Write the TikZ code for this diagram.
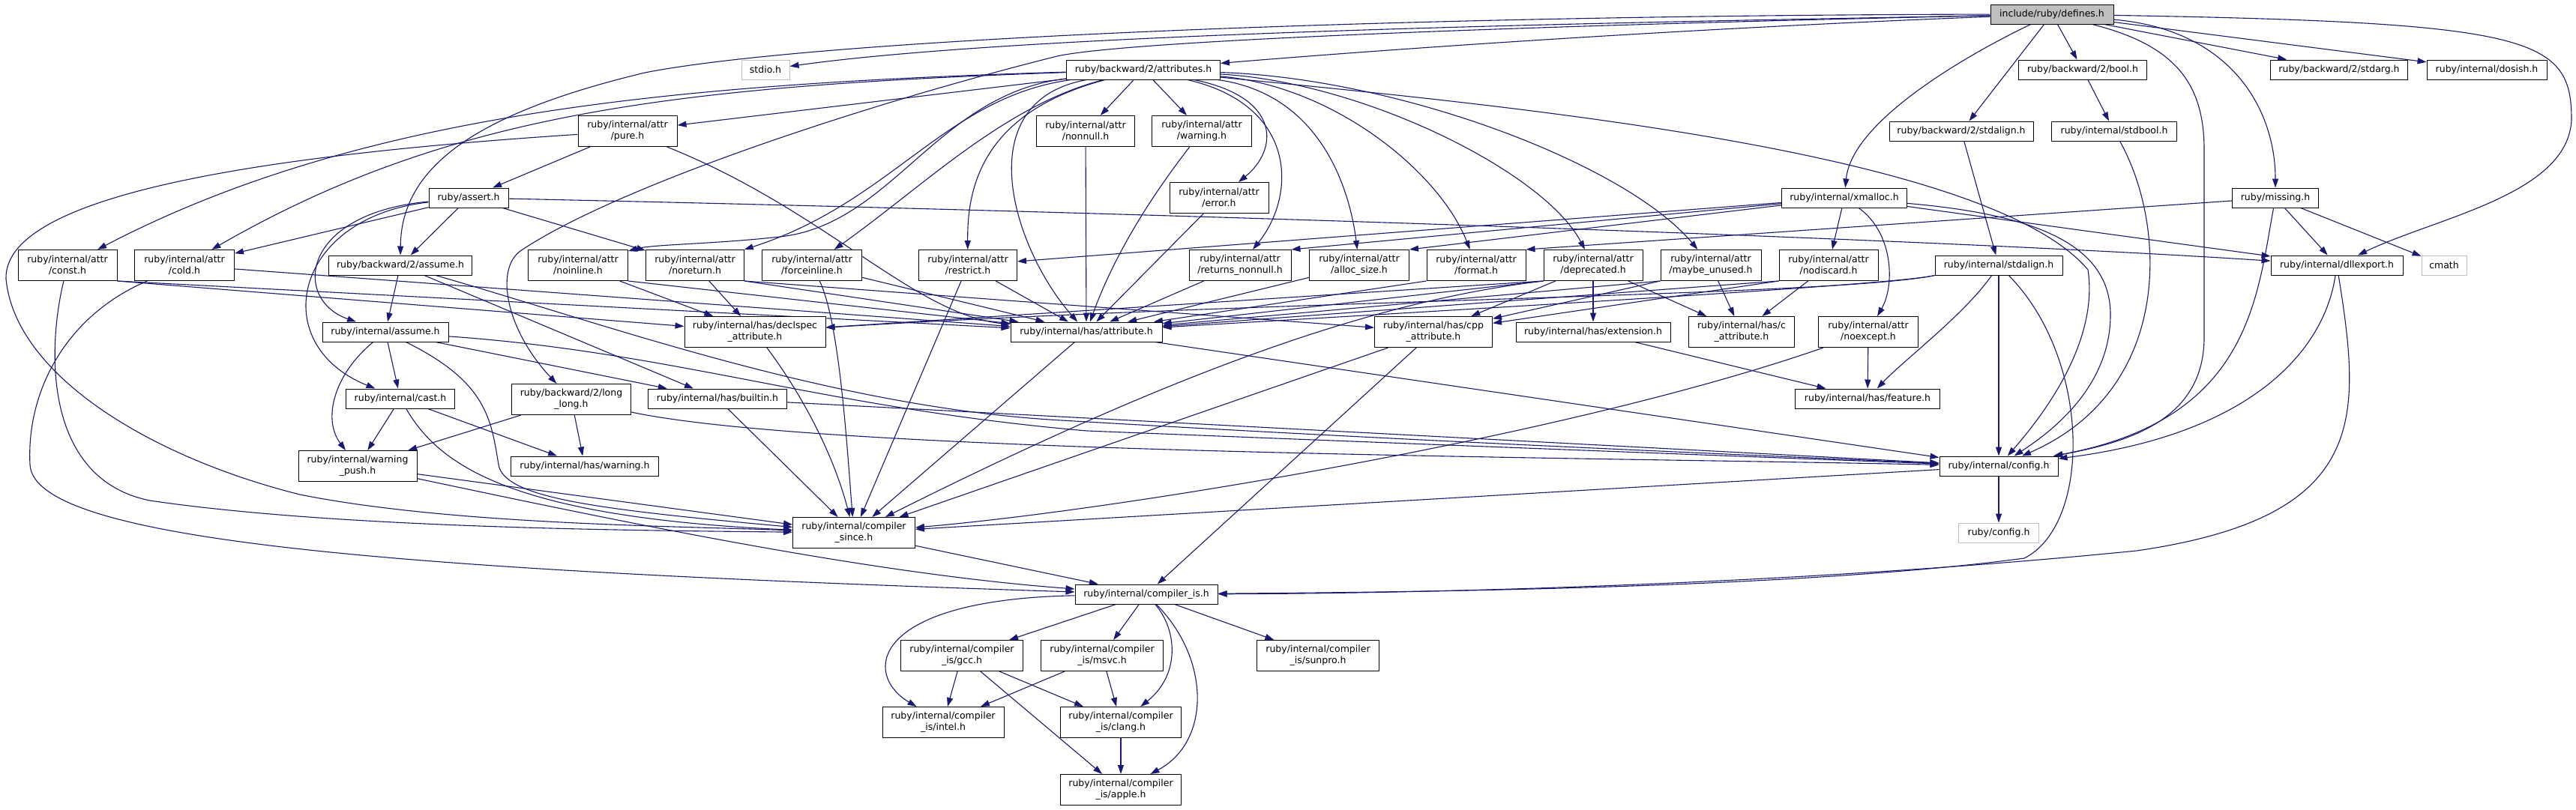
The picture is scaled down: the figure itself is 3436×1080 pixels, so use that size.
\documentclass[tikz,border=0pt]{standalone}
\usepackage{fontspec}
\setmainfont{DejaVu Sans}
\usetikzlibrary{arrows.meta}
\definecolor{navyc}{HTML}{191970}
\definecolor{grayf}{HTML}{BFBFBF}
\pgfdeclarelayer{bg}
\pgfsetlayers{bg,main}
\tikzset{
  nb/.style={draw=black, line width=1pt, fill=white, rectangle, inner sep=0pt, align=center,
             font=\fontsize{12.5}{15}\selectfont, text=black},
  s1/.style={minimum height=26pt},
  s2/.style={minimum height=41pt},
  gnode/.style={draw=grayf},
  edg/.style={draw=navyc, line width=1.1pt, -{Triangle[length=12pt,width=8pt]}},
}
\begin{document}
\begin{tikzpicture}[x=1pt,y=-1pt]
\useasboundingbox (0,0) rectangle (3436,1080);
% ---------------- nodes ----------------
\node[nb,s1,fill=grayf,minimum width=164pt] (defines) at (2737,19) {include/ruby/defines.h};
\node[nb,s1,gnode,minimum width=64pt] (stdio) at (1021,93) {stdio.h};
\node[nb,s1,minimum width=205pt] (attributes) at (1525,93) {ruby/backward/2/attributes.h};
\node[nb,s1,minimum width=171pt] (bool) at (2778,93) {ruby/backward/2/bool.h};
\node[nb,s1,minimum width=183pt] (stdarg) at (3120,93) {ruby/backward/2/stdarg.h};
\node[nb,s1,minimum width=160pt] (dosish) at (3317,93) {ruby/internal/dosish.h};
\node[nb,s2,minimum width=132pt] (pure) at (837,175) {ruby/internal/attr\\/pure.h};
\node[nb,s2,minimum width=131pt] (nonnull) at (1448,175) {ruby/internal/attr\\/nonnull.h};
\node[nb,s2,minimum width=133pt] (awarning) at (1603,175) {ruby/internal/attr\\/warning.h};
\node[nb,s1,minimum width=192pt] (bwstdalign) at (2616,175) {ruby/backward/2/stdalign.h};
\node[nb,s1,minimum width=167pt] (stdbool) at (2820,175) {ruby/internal/stdbool.h};
\node[nb,s1,minimum width=106pt] (assert) at (625,264) {ruby/assert.h};
\node[nb,s2,minimum width=132pt] (error) at (1626,264) {ruby/internal/attr\\/error.h};
\node[nb,s1,minimum width=167pt] (xmalloc) at (2460,264) {ruby/internal/xmalloc.h};
\node[nb,s1,minimum width=115pt] (missing) at (3035,264) {ruby/missing.h};
\node[nb,s2,minimum width=132pt] (const) at (90,354) {ruby/internal/attr\\/const.h};
\node[nb,s2,minimum width=133pt] (cold) at (246,354) {ruby/internal/attr\\/cold.h};
\node[nb,s1,minimum width=191pt] (bwassume) at (534,354) {ruby/backward/2/assume.h};
\node[nb,s2,minimum width=133pt] (noinline) at (771,354) {ruby/internal/attr\\/noinline.h};
\node[nb,s2,minimum width=131pt] (noreturn) at (927,354) {ruby/internal/attr\\/noreturn.h};
\node[nb,s2,minimum width=133pt] (forceinline) at (1083,354) {ruby/internal/attr\\/forceinline.h};
\node[nb,s2,minimum width=131pt] (restrict) at (1291,354) {ruby/internal/attr\\/restrict.h};
\node[nb,s2,minimum width=136pt] (retnonnull) at (1654,354) {ruby/internal/attr\\/returns\_nonnull.h};
\node[nb,s2,minimum width=133pt] (allocsize) at (1813,354) {ruby/internal/attr\\/alloc\_size.h};
\node[nb,s2,minimum width=132pt] (format) at (1969,354) {ruby/internal/attr\\/format.h};
\node[nb,s2,minimum width=132pt] (deprecated) at (2125,354) {ruby/internal/attr\\/deprecated.h};
\node[nb,s2,minimum width=134pt] (maybeunused) at (2282,354) {ruby/internal/attr\\/maybe\_unused.h};
\node[nb,s2,minimum width=132pt] (nodiscard) at (2439,354) {ruby/internal/attr\\/nodiscard.h};
\node[nb,s1,minimum width=170pt] (istdalign) at (2666,354) {ruby/internal/stdalign.h};
\node[nb,s1,minimum width=176pt] (dllexport) at (3117,354) {ruby/internal/dllexport.h};
\node[nb,s1,gnode,minimum width=60pt] (cmath) at (3260,354) {cmath};
\node[nb,s1,minimum width=168pt] (iassume) at (514,443) {ruby/internal/assume.h};
\node[nb,s2,minimum width=188pt] (declspec) at (1007,443) {ruby/internal/has/declspec\\\_attribute.h};
\node[nb,s1,minimum width=202pt] (hasattr) at (1449,443) {ruby/internal/has/attribute.h};
\node[nb,s2,minimum width=157pt] (cppattr) at (1912,443) {ruby/internal/has/cpp\\\_attribute.h};
\node[nb,s1,minimum width=206pt] (extension) at (2125,443) {ruby/internal/has/extension.h};
\node[nb,s2,minimum width=141pt] (cattr) at (2323,443) {ruby/internal/has/c\\\_attribute.h};
\node[nb,s2,minimum width=133pt] (noexcept) at (2492,443) {ruby/internal/attr\\/noexcept.h};
\node[nb,s1,minimum width=145pt] (cast) at (534,532) {ruby/internal/cast.h};
\node[nb,s2,minimum width=159pt] (longlong) at (762,533) {ruby/backward/2/long\\\_long.h};
\node[nb,s1,minimum width=185pt] (builtin) at (957,532) {ruby/internal/has/builtin.h};
\node[nb,s1,minimum width=193pt] (feature) at (2491,532) {ruby/internal/has/feature.h};
\node[nb,s2,minimum width=158pt] (wpush) at (477,622) {ruby/internal/warning\\\_push.h};
\node[nb,s1,minimum width=197pt] (haswarning) at (780,622) {ruby/internal/has/warning.h};
\node[nb,s1,minimum width=158pt] (config) at (2666,622) {ruby/internal/config.h};
\node[nb,s2,minimum width=163pt] (since) at (1139,711) {ruby/internal/compiler\\\_since.h};
\node[nb,s1,gnode,minimum width=107pt] (rconfig) at (2666,711) {ruby/config.h};
\node[nb,s1,minimum width=190pt] (compis) at (1529,793) {ruby/internal/compiler\_is.h};
\node[nb,s2,minimum width=163pt] (gcc) at (1283,875) {ruby/internal/compiler\\\_is/gcc.h};
\node[nb,s2,minimum width=163pt] (msvc) at (1470,875) {ruby/internal/compiler\\\_is/msvc.h};
\node[nb,s2,minimum width=163pt] (sunpro) at (1758,875) {ruby/internal/compiler\\\_is/sunpro.h};
\node[nb,s2,minimum width=162pt] (intel) at (1258,964) {ruby/internal/compiler\\\_is/intel.h};
\node[nb,s2,minimum width=161pt] (clang) at (1495,964) {ruby/internal/compiler\\\_is/clang.h};
\node[nb,s2,minimum width=161pt] (apple) at (1495,1054) {ruby/internal/compiler\\\_is/apple.h};
% ---------------- edges ----------------
\begin{pgfonlayer}{bg}
\fill[white] (0,0) rectangle (3436,1080);
% defines.h
\draw[edg] (defines) .. controls (2300,28) and (1400,40) .. (stdio);
\draw[edg] (defines) .. controls (2200,40) and (1800,70) .. (attributes);
\draw[edg] (defines) .. controls (1900,20) and (1100,50) .. (860,97) .. controls (640,150) and (535,220) .. (bwassume);
\draw[edg] (defines) .. controls (2000,35) and (1500,55) .. (1410,75) .. controls (1150,140) and (820,250) .. (694,335) .. controls (660,360) and (675,440) .. (longlong);
\draw[edg] (defines) -- (bool);
\draw[edg] (defines) -- (bwstdalign);
\draw[edg] (defines) -- (stdarg);
\draw[edg] (defines) -- (dosish);
\draw[edg] (defines) .. controls (2630,70) and (2470,160) .. (xmalloc);
\draw[edg] (defines) .. controls (2980,40) and (3035,150) .. (missing);
\draw[edg] (defines) .. controls (3380,30) and (3430,50) .. (3430,160) .. controls (3425,260) and (3250,290) .. (dllexport);
\draw[edg] (defines) .. controls (2900,60) and (2940,110) .. (2940,200) -- (2940,450) .. controls (2940,560) and (2840,590) .. (config);
% attributes.h
\draw[edg] (attributes) .. controls (2000,140) and (2650,200) .. (2785,360) .. controls (2800,460) and (2720,560) .. (config);
\draw[edg] (attributes) -- (pure);
\draw[edg] (attributes) .. controls (900,112) and (480,150) .. (const);
\draw[edg] (attributes) .. controls (900,115) and (600,150) .. (cold);
\draw[edg] (attributes) .. controls (1250,125) and (1190,300) .. (1040,316) .. controls (950,326) and (870,326) .. (noinline);
\draw[edg] (attributes) .. controls (1260,130) and (1190,270) .. (noreturn);
\draw[edg] (attributes) .. controls (1340,140) and (1230,250) .. (forceinline);
\draw[edg] (attributes) .. controls (1310,150) and (1290,250) .. (restrict);
\draw[edg] (attributes) -- (nonnull);
\draw[edg] (attributes) -- (awarning);
\draw[edg] (attributes) .. controls (1710,130) and (1705,200) .. (error);
\draw[edg] (attributes) .. controls (1730,140) and (1730,260) .. (retnonnull);
\draw[edg] (attributes) .. controls (1760,125) and (1800,250) .. (allocsize);
\draw[edg] (attributes) .. controls (1780,115) and (1920,230) .. (format);
\draw[edg] (attributes) .. controls (1820,110) and (2060,230) .. (deprecated);
\draw[edg] (attributes) .. controls (1870,105) and (2170,220) .. (maybeunused);
\draw[edg] (attributes) .. controls (1290,135) and (1350,330) .. (hasattr);
% pure.h
\draw[edg] (pure) -- (assert);
\draw[edg] (pure) .. controls (1100,280) and (1220,420) .. (hasattr);
\draw[edg] (pure) .. controls (380,205) and (5,255) .. (8,372) .. controls (20,500) and (200,610) .. (400,660) .. controls (600,700) and (900,702) .. (since);
% assert.h
\draw[edg] (assert) -- (cold);
\draw[edg] (assert) -- (bwassume);
\draw[edg] (assert) -- (noreturn);
\draw[edg] (assert) .. controls (1600,285) and (2600,320) .. (dllexport);
\draw[edg] (assert) .. controls (400,285) and (390,400) .. (iassume);
\draw[edg] (assert) .. controls (390,290) and (355,460) .. (cast);
% backward/2/assume.h
\draw[edg] (bwassume) -- (iassume);
\draw[edg] (bwassume) -- (builtin);
\draw[edg] (bwassume) .. controls (800,430) and (1100,540) .. (1400,560) .. controls (1900,590) and (2400,610) .. (config);
% internal/assume.h
\draw[edg] (iassume) -- (cast);
\draw[edg] (iassume) .. controls (445,500) and (430,560) .. (wpush);
\draw[edg] (iassume) .. controls (650,510) and (655,560) .. (665,620) .. controls (672,665) and (800,680) .. (since);
\draw[edg] (iassume) -- (builtin);
\draw[edg] (iassume) .. controls (900,470) and (1100,545) .. (1450,575) .. controls (1950,595) and (2400,612) .. (config);
% cast.h
\draw[edg] (cast) -- (wpush);
\draw[edg] (cast) -- (haswarning);
\draw[edg] (cast) .. controls (585,620) and (680,690) .. (since);
% long_long.h
\draw[edg] (longlong) -- (haswarning);
\draw[edg] (longlong) -- (wpush);
\draw[edg] (longlong) .. controls (1100,605) and (2100,610) .. (config);
% has/builtin.h
\draw[edg] (builtin) -- (since);
\draw[edg] (builtin) -- (config);
% warning_push.h
\draw[edg] (wpush) -- (since);
\draw[edg] (wpush) .. controls (800,690) and (1150,765) .. (compis);
% const.h
\draw[edg] (const.south east) -- (declspec);
\draw[edg] (const.south east) -- (hasattr);
\draw[edg] (const) .. controls (62,470) and (60,640) .. (200,668) .. controls (450,705) and (850,708) .. (since);
% cold.h
\draw[edg] (cold) -- (hasattr);
\draw[edg] (cold) .. controls (90,420) and (35,520) .. (40,620) .. controls (45,720) and (500,760) .. (compis);
% noinline.h
\draw[edg] (noinline) -- (declspec);
\draw[edg] (noinline.south east) -- (hasattr);
% noreturn.h
\draw[edg] (noreturn) -- (declspec);
\draw[edg] (noreturn.south east) -- (hasattr);
\draw[edg] (noreturn.south east) -- (cppattr);
% forceinline.h
\draw[edg] (forceinline) .. controls (1120,430) and (1130,600) .. (since);
\draw[edg] (forceinline) -- (hasattr);
% restrict.h
\draw[edg] (restrict) -- (since);
\draw[edg] (restrict) -- (hasattr);
% simple attrs
\draw[edg] (nonnull) -- (hasattr);
\draw[edg] (awarning) .. controls (1545,250) and (1490,330) .. (hasattr);
\draw[edg] (error) -- (hasattr);
\draw[edg] (retnonnull) -- (hasattr);
\draw[edg] (allocsize) -- (hasattr);
\draw[edg] (format.south west) -- (hasattr);
% deprecated.h
\draw[edg] (deprecated.south west) -- (hasattr);
\draw[edg] (deprecated.south west) -- (declspec);
\draw[edg] (deprecated) -- (cppattr);
\draw[edg] (deprecated) -- (extension);
\draw[edg] (deprecated) -- (cattr);
\draw[edg] (deprecated.south west) .. controls (1850,400) and (1600,480) .. (since);
% maybe_unused.h
\draw[edg] (maybeunused.south west) -- (hasattr);
\draw[edg] (maybeunused) -- (cattr);
\draw[edg] (maybeunused.south west) -- (cppattr);
% nodiscard.h
\draw[edg] (nodiscard.south west) -- (hasattr);
\draw[edg] (nodiscard) -- (cattr);
\draw[edg] (nodiscard.south west) -- (cppattr);
% internal/stdalign.h
\draw[edg] (istdalign) -- (config);
\draw[edg] (istdalign) .. controls (2620,420) and (2540,480) .. (feature);
\draw[edg] (istdalign.south west) .. controls (2530,380) and (2000,410) .. (hasattr);
\draw[edg] (istdalign.south west) .. controls (2450,395) and (1700,400) .. (declspec);
\draw[edg] (istdalign) .. controls (2790,480) and (2790,700) .. (2700,745) .. controls (2400,785) and (1900,790) .. (compis);
% xmalloc.h
\draw[edg] (xmalloc) -- (nodiscard);
\draw[edg] (xmalloc) .. controls (2525,310) and (2528,380) .. (noexcept);
\draw[edg] (xmalloc) -- (allocsize.north east);
\draw[edg] (xmalloc) -- (retnonnull.north east);
\draw[edg] (xmalloc) -- (restrict);
\draw[edg] (xmalloc) -- (dllexport);
\draw[edg] (xmalloc) .. controls (2700,285) and (2815,320) .. (2815,420) .. controls (2815,520) and (2730,580) .. (config);
% missing.h
\draw[edg] (missing) -- (format.north east);
\draw[edg] (missing) -- (dllexport);
\draw[edg] (missing) -- (cmath);
\draw[edg] (missing) .. controls (3010,400) and (3000,560) .. (config);
% backward stdalign / bool
\draw[edg] (bwstdalign) -- (istdalign);
\draw[edg] (bool) -- (stdbool);
\draw[edg] (stdbool) .. controls (2890,300) and (2900,520) .. (config);
% dllexport.h
\draw[edg] (dllexport) .. controls (3100,470) and (3000,580) .. (config);
\draw[edg] (dllexport) .. controls (3150,560) and (3160,690) .. (2850,735) .. controls (2400,780) and (1900,792) .. (compis);
% has/*
\draw[edg] (hasattr) -- (since);
\draw[edg] (hasattr) -- (config);
\draw[edg] (declspec) .. controls (1065,520) and (1110,600) .. (since);
\draw[edg] (cppattr) -- (since);
\draw[edg] (cppattr) -- (compis);
\draw[edg] (extension) -- (feature);
% noexcept.h
\draw[edg] (noexcept) -- (feature);
\draw[edg] (noexcept) .. controls (2100,580) and (1500,680) .. (since);
% config.h
\draw[edg] (config) -- (rconfig);
\draw[edg] (config) -- (since);
% compiler_since / compiler_is
\draw[edg] (since) -- (compis);
\draw[edg] (compis) -- (gcc);
\draw[edg] (compis) -- (msvc);
\draw[edg] (compis) -- (sunpro);
\draw[edg] (compis) .. controls (1570,840) and (1575,900) .. (clang);
\draw[edg] (compis) .. controls (1615,880) and (1615,990) .. (apple);
\draw[edg] (compis) .. controls (1160,800) and (1150,900) .. (intel);
\draw[edg] (gcc) -- (intel);
\draw[edg] (gcc) -- (clang);
\draw[edg] (gcc) -- (apple);
\draw[edg] (msvc) -- (intel);
\draw[edg] (msvc) -- (clang);
\draw[edg] (clang) -- (apple);
\end{pgfonlayer}
\end{tikzpicture}
\end{document}
